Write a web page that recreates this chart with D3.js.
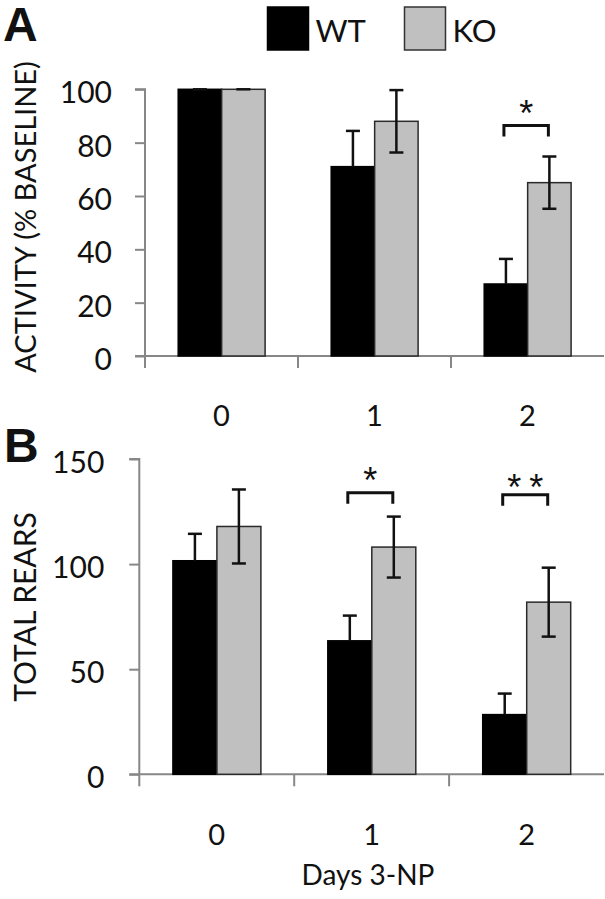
<!DOCTYPE html>
<html>
<head>
<meta charset="utf-8">
<script src="https://cdn.jsdelivr.net/npm/d3@7"></script>
<style>
  html, body { margin: 0; padding: 0; background: #fff; }
  svg { display: block; }
  text { font-family: Lato, "Open Sans", sans-serif; fill: #111; }
</style>
</head>
<body>
<svg id="chart" width="605" height="899"></svg>
<script>
// ---------- data ----------
const days = ["0", "1", "2"];
const groups = ["WT", "KO"];

// Panel A: activity (% baseline)
const activityWT = [100, 71, 27];
const activityKO = [100, 88, 65];
const activityErrWT = [0, 13.4, 9.4];
const activityErrKO = [0, 11.7, 9.8];
const activityTicks = [0, 20, 40, 60, 80, 100];

// Panel B: total rears
const rearsWT = [101.6, 63.5, 28.4];
const rearsKO = [117.9, 108.1, 81.9];
const rearsErrWT = [12.8, 12, 10];
const rearsErrKO = [17.6, 14.5, 16.4];
const rearsTicks = [0, 50, 100, 150];

// significance markers
const sigA = [{ day: "2", level: 86.4, label: "*" }];
const sigB = [{ day: "1", level: 134, label: "*" }, { day: "2", level: 133, label: "**" }];

const colors = { WT: "#000000", KO: "#c0c0c0" };
const axisColor = "#878787";

const svg = d3.select("#chart");

function panel(cfg) {
  const g = svg.append("g");
  const x0 = d3.scaleBand().domain(days).range([cfg.left, cfg.right]).paddingInner(0).paddingOuter(0);
  const bw = x0.bandwidth();
  const x1 = d3.scaleBand().domain(groups).range([bw * 0.217, bw * 0.785]);
  const y = d3.scaleLinear().domain([0, cfg.max]).range([cfg.bottom, cfg.top]);

  const rows = days.map((d, i) => ({
    day: d,
    WT: { v: cfg.wt[i], e: cfg.ewt[i] },
    KO: { v: cfg.ko[i], e: cfg.eko[i] }
  }));

  // y axis
  const yAxis = d3.axisLeft(y).tickValues(cfg.ticks).tickSize(10).tickPadding(cfg.tickPad).tickFormat(d3.format("d"));
  const ya = g.append("g").attr("transform", `translate(${cfg.left},0)`).call(yAxis);
  ya.select(".domain").attr("stroke", axisColor).attr("stroke-width", 2)
    .attr("d", `M-10,${cfg.top}H0V${cfg.bottom}`);
  ya.selectAll(".tick line").attr("stroke", axisColor).attr("stroke-width", 2);
  ya.selectAll(".tick text").attr("font-family", "Lato, sans-serif").attr("font-size", 30)
    .attr("fill", "#111").attr("dy", "0.32em").attr("y", 4);

  // x axis baseline and boundary ticks
  g.append("line").attr("x1", cfg.left - 10).attr("x2", cfg.right).attr("y1", cfg.bottom).attr("y2", cfg.bottom)
    .attr("stroke", axisColor).attr("stroke-width", 2);
  g.selectAll(".xtick").data(days).join("line")
    .attr("x1", d => x0(d)).attr("x2", d => x0(d))
    .attr("y1", cfg.bottom).attr("y2", cfg.bottom + 12)
    .attr("stroke", axisColor).attr("stroke-width", 2);
  g.selectAll(".xlab").data(days).join("text")
    .attr("x", d => x0(d) + bw / 2).attr("y", cfg.labelY)
    .attr("text-anchor", "middle").attr("font-size", 29).text(d => d);

  // bars
  const gg = g.selectAll(".grp").data(rows).join("g").attr("transform", d => `translate(${x0(d.day)},0)`);
  gg.selectAll("rect").data(d => groups.map(k => ({ k, v: d[k].v }))).join("rect")
    .attr("x", d => x1(d.k)).attr("width", x1.bandwidth())
    .attr("y", d => y(d.v)).attr("height", d => y(0) - y(d.v))
    .attr("fill", d => colors[d.k])
    .attr("stroke", d => d.k === "KO" ? "#2a2a2a" : "#000")
    .attr("stroke-width", 1.5);

  // error bars (WT upward only, KO both)
  const cap = 7;
  gg.each(function (d) {
    const sel = d3.select(this);
    groups.forEach(k => {
      const cx = x1(k) + x1.bandwidth() / 2;
      const top = y(d[k].v + d[k].e);
      const bot = k === "WT" ? y(d[k].v) : y(d[k].v - d[k].e);
      sel.append("line").attr("x1", cx).attr("x2", cx).attr("y1", top).attr("y2", bot)
        .attr("stroke", "#111").attr("stroke-width", 2.5);
      sel.append("line").attr("x1", cx - cap).attr("x2", cx + cap).attr("y1", top).attr("y2", top)
        .attr("stroke", "#111").attr("stroke-width", 2.5);
      if (k === "KO" && d[k].e > 0) {
        sel.append("line").attr("x1", cx - cap).attr("x2", cx + cap).attr("y1", bot).attr("y2", bot)
          .attr("stroke", "#111").attr("stroke-width", 2.5);
      }
    });
  });

  // significance brackets
  cfg.sig.forEach(s => {
    const xa = x0(s.day) + x1("WT") + x1.bandwidth() / 2 - 2;
    const xb = x0(s.day) + x1("KO") + x1.bandwidth() / 2 - 1;
    const yb = y(s.level);
    const multi = s.label.length > 1;
    g.append("path").attr("d", `M${xa},${yb + 11}V${yb}H${xb}V${yb + 11}`)
      .attr("fill", "none").attr("stroke", "#111").attr("stroke-width", 3);
    g.append("text").attr("x", (xa + xb) / 2 + (multi ? 4 : 0)).attr("y", yb + (multi ? 5.5 : 0.5))
      .attr("text-anchor", "middle").attr("font-size", 36)
      .style("font-family", "'Liberation Sans', Arial, sans-serif")
      .attr("letter-spacing", multi ? 8 : 0)
      .text(s.label);
  });

  // y title
  g.append("text").attr("transform", `translate(${cfg.titleX},${cfg.titleY}) rotate(-90)`)
    .attr("text-anchor", "middle").attr("font-size", cfg.titleSize).text(cfg.title);

  // panel letter
  svg.append("text").attr("x", cfg.letterX).attr("y", cfg.letterY)
    .attr("font-weight", "bold").attr("font-size", 48)
    .style("font-family", "'Liberation Sans', Arial, sans-serif").text(cfg.letter);
}

panel({
  left: 145, right: 604, top: 89.3, bottom: 356, max: 100,
  wt: activityWT, ko: activityKO, ewt: activityErrWT, eko: activityErrKO,
  ticks: activityTicks, tickPad: 23, labelY: 426, sig: sigA,
  title: "ACTIVITY (% BASELINE)", titleX: 36, titleY: 217, titleSize: 29,
  letter: "A", letterX: 3, letterY: 41
});

panel({
  left: 139.3, right: 604, top: 459, bottom: 774.3, max: 150,
  wt: rearsWT, ko: rearsKO, ewt: rearsErrWT, eko: rearsErrKO,
  ticks: rearsTicks, tickPad: 25, labelY: 845, sig: sigB,
  title: "TOTAL REARS", titleX: 36, titleY: 607, titleSize: 30,
  letter: "B", letterX: 4, letterY: 462
});

// x title
svg.append("text").attr("x", 368).attr("y", 885).attr("text-anchor", "middle")
  .attr("font-size", 28).text("Days 3-NP");

// legend
const legend = svg.append("g");
const legendX = d3.scaleOrdinal().domain(groups).range([267.5, 404.5]);
groups.forEach(k => {
  legend.append("rect").attr("x", legendX(k)).attr("y", 7).attr("width", 41).attr("height", 43)
    .attr("fill", colors[k]).attr("stroke", k === "KO" ? "#333" : "#000").attr("stroke-width", 1.5);
  legend.append("text").attr("x", legendX(k) + 48).attr("y", 42).attr("font-size", 31).text(k);
});
</script>
</body>
</html>
